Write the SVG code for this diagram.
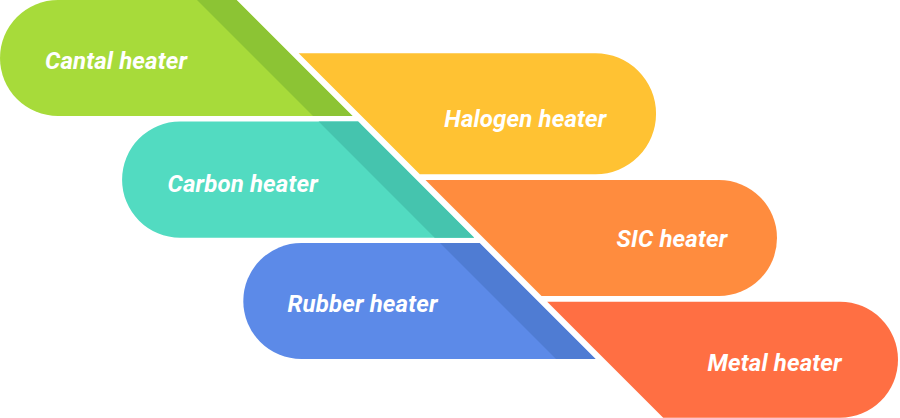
<svg xmlns="http://www.w3.org/2000/svg" width="900" height="418" viewBox="0 0 900 418">
<style>
.lbl{font-family:Roboto,"Liberation Sans",sans-serif;font-weight:700;font-style:italic;font-size:24px;letter-spacing:0.15px;fill:#ffffff}
</style>
<rect width="900" height="418" fill="#ffffff"/>
<g id="cantal">
<path d="M58,0 L236.5,0 L352.5,116 L58,116 A58,58 0 0 1 58,0 Z" fill="#A7DB3A"/>
<path d="M197,0 L236.5,0 L352.5,116 L313,116 Z" fill="#8CC434"/>
<text class="lbl" x="45" y="69.3">Cantal heater</text>
</g>
<g id="carbon">
<path d="M180.1,121.6 L358.1,121.6 L474.2,237.7 L180.1,237.7 A58.05,58.05 0 0 1 180.1,121.6 Z" fill="#52DBC1"/>
<path d="M318.6,121.6 L358.1,121.6 L474.2,237.7 L434.7,237.7 Z" fill="#45C4AE"/>
<text class="lbl" x="167.5" y="191.7">Carbon heater</text>
</g>
<g id="rubber">
<path d="M301.3,243 L479.5,243 L595.5,359 L301.3,359 A58,58 0 0 1 301.3,243 Z" fill="#5C8AE8"/>
<path d="M440,243 L479.5,243 L595.5,359 L556,359 Z" fill="#4F7CD3"/>
<text class="lbl" x="287.5" y="311.7">Rubber heater</text>
</g>
<g id="halogen">
<path d="M298.7,53.2 L595.5,53.2 A60.55,60.55 0 0 1 595.5,174.3 L419.8,174.3 Z" fill="#FFC233"/>
<text class="lbl" x="444.3" y="126.7">Halogen heater</text>
</g>
<g id="sic">
<path d="M425.5,180 L719,180 A58,58 0 0 1 719,296 L541.5,296 Z" fill="#FF8C3E"/>
<text class="lbl" x="616.5" y="246.7">SIC heater</text>
</g>
<g id="metal">
<path d="M547.2,301.7 L840,301.7 A58,58 0 0 1 840,417.7 L663.2,417.7 Z" fill="#FF6F43"/>
<text class="lbl" x="707.5" y="370.7">Metal heater</text>
</g>
<g id="connectors"></g>
</svg>
